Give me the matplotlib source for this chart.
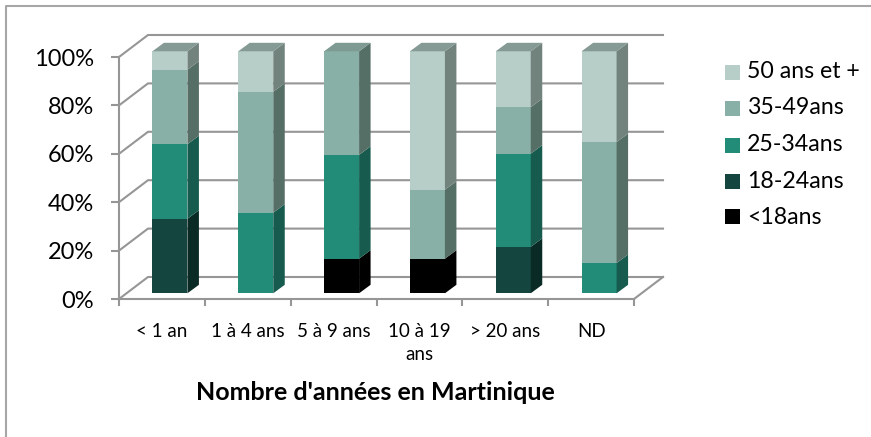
import matplotlib
matplotlib.use("Agg")
import matplotlib.pyplot as plt
from matplotlib.lines import Line2D
from matplotlib.patches import Polygon, Rectangle
from matplotlib.transforms import Affine2D, ScaledTranslation

plt.rcParams["font.family"] = ["Lato", "DejaVu Sans"]

categories = ["< 1 an", "1 à 4 ans", "5 à 9 ans", "10 à 19\nans", "> 20 ans", "ND"]
under_18 = [0, 0, 14.3, 14.3, 0, 0]
age_18_24 = [30.8, 0, 0, 0, 19.2, 0]
age_25_34 = [30.8, 33.3, 42.9, 0, 38.5, 12.5]
age_35_49 = [30.8, 50.0, 42.8, 28.5, 19.2, 50.0]
age_50_plus = [7.6, 16.7, 0, 57.2, 23.1, 37.5]

series = [under_18, age_18_24, age_25_34, age_35_49, age_50_plus]
names = ["<18ans", "18-24ans", "25-34ans", "35-49ans", "50 ans et +"]
front_colors = ["#000000", "#14463F", "#228C78", "#89B0A6", "#B7CEC8"]
side_colors = ["#000000", "#0A2A26", "#165B4E", "#556F67", "#72827D"]
top_colors = ["#000000", "#10352F", "#1B6B5C", "#7F9A92", "#869A95"]
grid_color = "#969696"

W, H = 871, 437
fig = plt.figure(figsize=(W / 100, H / 100), dpi=100)
# front plane of the 3d box, in pixels
left, right, top, bottom = 119, 634, 57, 299
ax = fig.add_axes([left / W, 1 - bottom / H, (right - left) / W, (bottom - top) / H])
ax.set_xlim(-0.5, 5.5)
ax.set_ylim(0, 100)
ax.patch.set_visible(False)

px_x = (right - left) / 6
px_y = (bottom - top) / 100


def to_data(dx, dy):
    return dx / px_x, dy / px_y


# back wall and floor
wall_dx, wall_dy = to_data(29, 22)
for v in range(0, 101, 20):
    ax.plot([-0.5, -0.5 + wall_dx, 5.5 + wall_dx], [v, v + wall_dy, v + wall_dy],
            color=grid_color, lw=1.5, clip_on=False, zorder=1)
ax.plot([5.5, 5.5 + wall_dx], [0, wall_dy], color=grid_color, lw=1.5, clip_on=False, zorder=1)

# bars sit a bit inside the box
shift = ax.transData + Affine2D().translate(8, 5.7)
depth_x, depth_y = to_data(11.5, 8.5)
width = 35 / px_x

for i in range(len(categories)):
    base = 0
    last = max(k for k in range(len(series)) if series[k][i] > 0)
    for k, values in enumerate(series):
        v = values[i]
        if v <= 0:
            continue
        x0 = i - width / 2
        x1 = i + width / 2
        ax.bar(i, v, width, bottom=base, color=front_colors[k], transform=shift,
               clip_on=False, zorder=3)
        ax.add_patch(Polygon([(x1, base), (x1 + depth_x, base + depth_y),
                              (x1 + depth_x, base + v + depth_y), (x1, base + v)],
                             closed=True, fc=side_colors[k], ec="none",
                             transform=shift, clip_on=False, zorder=3))
        if k == last:
            ax.add_patch(Polygon([(x0, base + v), (x0 + depth_x, base + v + depth_y),
                                  (x1 + depth_x, base + v + depth_y), (x1, base + v)],
                                 closed=True, fc=top_colors[k], ec="none",
                                 transform=shift, clip_on=False, zorder=3))
        base += v

# axes
for side in ["top", "right"]:
    ax.spines[side].set_visible(False)
for side in ["left", "bottom"]:
    ax.spines[side].set_color(grid_color)
    ax.spines[side].set_linewidth(1.5)
ax.set_yticks(range(0, 101, 20))
ax.set_yticklabels([f"{v}%" for v in range(0, 101, 20)], fontsize=17, color="black")
down = ScaledTranslation(0, -2 / 100, fig.dpi_scale_trans)
for label in ax.get_yticklabels():
    label.set_transform(label.get_transform() + down)
ax.set_xticks([i - 0.5 for i in range(7)])
ax.set_xticklabels([])
ax.set_xticks(range(6), categories, minor=True, fontsize=13.5, color="black")
for label in ax.get_xticklabels(minor=True):
    label.set_linespacing(1.45)
ax.tick_params(axis="x", which="major", length=5, width=1.5, color=grid_color)
ax.tick_params(axis="x", which="minor", length=0, pad=17)
ax.tick_params(axis="y", length=6, width=1.5, color=grid_color, pad=12)

fig.text(375 / W, 1 - 392 / H, "Nombre d'années en Martinique", fontsize=18,
         fontweight="bold", ha="center", va="center")

# legend
legend_y = [72, 108, 145, 181, 217]
for name, color, y in zip(names[::-1], front_colors[::-1], legend_y):
    fig.add_artist(Rectangle((725 / W, 1 - (y + 7.5) / H), 15 / W, 15 / H,
                             transform=fig.transFigure, fc=color, ec="none"))
    fig.text(747 / W, 1 - y / H, name, fontsize=16.7, va="center", ha="left")

# chart frame, only top and left are inside the picture
fig.add_artist(Line2D([5.5 / W, 5.5 / W, 1], [0, 1 - 5.5 / H, 1 - 5.5 / H],
                      transform=fig.transFigure, color="#A6A6A6", lw=1.5))

fig.savefig("out.png", dpi=100)
